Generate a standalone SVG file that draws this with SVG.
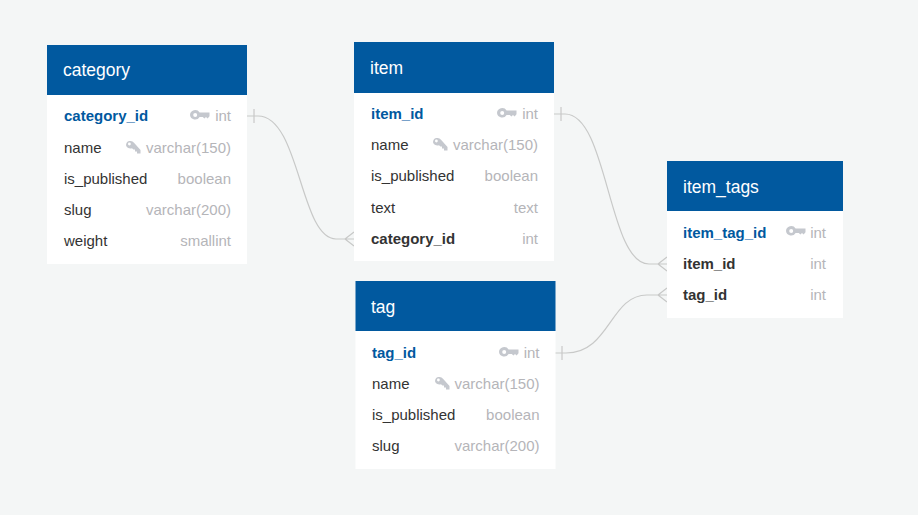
<svg xmlns="http://www.w3.org/2000/svg" width="918" height="515" viewBox="0 0 918 515">
<style>
text{font-family:"Liberation Sans",Arial,sans-serif;font-size:15px}
.h{fill:#01599f}.b{fill:#fff}
.t{fill:#fff;font-size:17.5px}
.n{fill:#333}.pk{fill:#01599f;font-weight:700}.fk{fill:#333;font-weight:700}
.ty{fill:#b5b5b9;text-anchor:end}
.c{fill:none;stroke:#c8c9c8;stroke-width:1.2}
.k{fill:#c5c8ce}
</style>
<defs>
<g id="pk"><path class="k" fill-rule="evenodd" d="M0 0a5.2 5.2 0 0 1 9.6-2.6H19.5V1.2L17.6 3.4 16 2 14.4 3.4 12.8 2H9.6A5.2 5.2 0 0 1 0 0ZM3.2 0a2 2 0 1 0 4 0a2 2 0 1 0-4 0Z"/></g>
<g id="ix"><path class="k" fill-rule="evenodd" d="M0 4.2a4.4 4.4 0 0 1 8-2.4L14.5 9V12.5H11V10.5H9V8.5H7.4L6 7.2A4.4 4.4 0 0 1 0 4.2ZM2 3a1.4 1.4 0 1 0 2.8 0a1.4 1.4 0 1 0-2.8 0Z"/></g>
</defs>
<rect width="918" height="515" fill="#f4f6f6"/>
<g id="connectors">
<path class="c" d="M247 116H258C300 116 300 239 336 239H354M254 109V123M345 239L354 232M345 239L354 246"/>
<path class="c" d="M554 114H565C608 114 608 264 649 264H667M561 107V121M658 264L667 257M658 264L667 271"/>
<path class="c" d="M555 353H566C610 353 610 295 647 295H667M562 346V360M658 295L667 288M658 295L667 302"/>
</g>
<g id="category">
<rect class="b" x="47" y="95" width="200" height="169"/><rect class="h" x="47" y="45" width="200" height="50"/>
<text class="t" x="63" y="76">category</text>
<text class="pk" x="64" y="121">category_id</text><use href="#pk" x="190" y="115"/><text class="ty" x="231" y="121">int</text>
<text class="n" x="64" y="153">name</text><use href="#ix" x="126" y="141"/><text class="ty" x="231" y="153">varchar(150)</text>
<text class="n" x="64" y="184">is_published</text><text class="ty" x="231" y="184">boolean</text>
<text class="n" x="64" y="215">slug</text><text class="ty" x="231" y="215">varchar(200)</text>
<text class="n" x="64" y="246">weight</text><text class="ty" x="231" y="246">smallint</text>
</g>
<g id="item">
<rect class="b" x="354" y="93" width="200" height="168"/><rect class="h" x="354" y="42" width="200" height="51"/>
<text class="t" x="370" y="74">item</text>
<text class="pk" x="371" y="119">item_id</text><use href="#pk" x="497" y="113"/><text class="ty" x="538" y="119">int</text>
<text class="n" x="371" y="150">name</text><use href="#ix" x="433" y="138"/><text class="ty" x="538" y="150">varchar(150)</text>
<text class="n" x="371" y="181">is_published</text><text class="ty" x="538" y="181">boolean</text>
<text class="n" x="371" y="213">text</text><text class="ty" x="538" y="213">text</text>
<text class="fk" x="371" y="244">category_id</text><text class="ty" x="538" y="244">int</text>
</g>
<g id="tag">
<rect class="b" x="355.5" y="331" width="200" height="138"/><rect class="h" x="355.5" y="281" width="200" height="50"/>
<text class="t" x="371" y="313">tag</text>
<text class="pk" x="372" y="358">tag_id</text><use href="#pk" x="499" y="352"/><text class="ty" x="539.5" y="358">int</text>
<text class="n" x="372" y="389">name</text><use href="#ix" x="435" y="377"/><text class="ty" x="539.5" y="389">varchar(150)</text>
<text class="n" x="372" y="420">is_published</text><text class="ty" x="539.5" y="420">boolean</text>
<text class="n" x="372" y="451">slug</text><text class="ty" x="539.5" y="451">varchar(200)</text>
</g>
<g id="item_tags">
<rect class="b" x="667" y="211" width="176" height="107"/><rect class="h" x="667" y="161" width="176" height="50"/>
<text class="t" x="683" y="193">item_tags</text>
<text class="pk" x="683" y="238">item_tag_id</text><use href="#pk" x="786" y="231"/><text class="ty" x="826" y="238">int</text>
<text class="fk" x="683" y="269">item_id</text><text class="ty" x="826" y="269">int</text>
<text class="fk" x="683" y="300">tag_id</text><text class="ty" x="826" y="300">int</text>
</g>
</svg>
